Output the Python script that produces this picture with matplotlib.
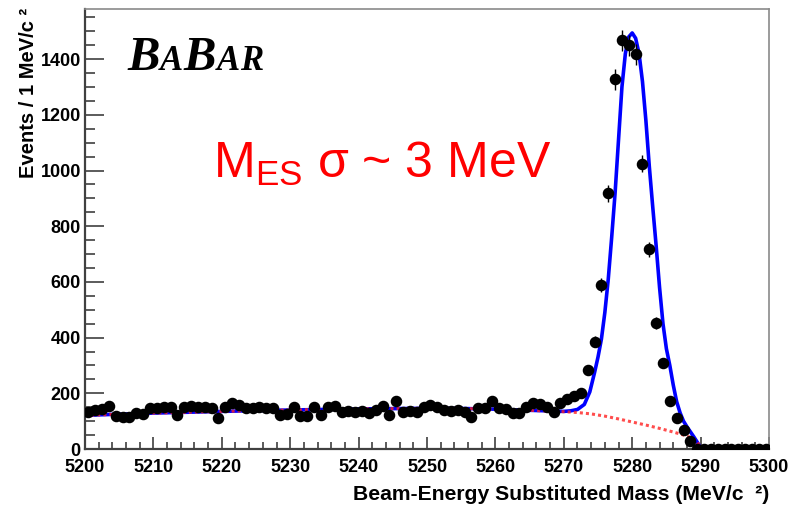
import numpy as np
import matplotlib
matplotlib.use("Agg")
import matplotlib.pyplot as plt
from matplotlib.ticker import MultipleLocator

plt.rcParams.update({
    "font.family": "Liberation Sans", "font.size": 12,
    "figure.facecolor": "white", "axes.facecolor": "white",
})

BLUE = "#0000ff"; RED = "#ff2020"; AXIS = "#404040"

# binned data: 1 MeV bins, 5200-5300
bin_centers = np.arange(5200.5, 5300.5, 1.0)
counts = [134, 140, 142, 154, 118, 116, 115, 128, 124, 146,
          148, 150, 152, 122, 150, 154, 152, 150, 148, 110,
          150, 164, 158, 146, 148, 150, 148, 146, 122, 124,
          150, 120, 118, 152, 122, 150, 155, 134, 138, 132,
          136, 130, 140, 155, 122, 174, 134, 136, 132, 150,
          157, 150, 140, 136, 140, 134, 116, 146, 146, 174,
          146, 144, 128, 130, 152, 165, 160, 150, 132, 165,
          180, 190, 200, 284, 385, 589, 918, 1327, 1468, 1450,
          1417, 1025, 718, 453, 308, 173, 110, 68, 30, 0,
          0, 0, 0, 0, 0, 0, 0, 0, 0, 0]

# background (ARGUS) component
bkg_x = [5200, 5205, 5210, 5215, 5220, 5225, 5230, 5235, 5240, 5245, 5250,
         5255, 5260, 5265, 5270, 5272, 5274, 5276, 5278, 5280, 5282, 5284,
         5286, 5287, 5288, 5288.5, 5289, 5289.5, 5289.8, 5290, 5300]
bkg_y = [121, 125, 129, 132, 135, 138, 140, 142, 144, 145, 146,
         145.5, 143, 139, 134, 131, 126, 118, 108, 97, 86, 74,
         61, 54, 46, 41, 34, 24, 14, 0, 0]

# total fit (blue)
fit_x = [5200, 5205, 5210, 5215, 5220, 5225, 5230, 5235, 5240, 5245, 5250,
         5255, 5260, 5265, 5270, 5271, 5272, 5273, 5273.8, 5274.5, 5275,
         5275.5, 5276, 5276.5, 5277, 5277.5, 5278, 5278.5, 5279, 5279.5,
         5280, 5280.5, 5281, 5281.5, 5282, 5282.5, 5283, 5283.5, 5284,
         5284.5, 5285, 5285.5, 5286, 5286.5, 5287, 5287.5, 5288, 5288.5,
         5289, 5289.5, 5290, 5290.2, 5300]
fit_y = [121, 125, 129, 132, 135, 138, 140, 142, 144, 145, 146,
         145.5, 143, 139, 135, 137, 142, 160, 205, 275, 330,
         395, 490, 610, 760, 920, 1110, 1300, 1420, 1480,
         1494, 1475, 1420, 1320, 1180, 1015, 870, 730, 580,
         450, 360, 300, 230, 170, 130, 100, 80, 62,
         44, 25, 5, 0, 0]

fig = plt.figure(figsize=(7.98, 5.07), dpi=100)
ax = fig.add_axes([85/798, 1 - 449/507, 684/798, 440/507])

ax.plot(fit_x, fit_y, color=BLUE, lw=2.6, zorder=3)
ax.plot(bkg_x, bkg_y, color=RED, lw=2.2, ls=(0, (1, 1)), alpha=0.8, zorder=4)
ax.errorbar(bin_centers, counts, yerr=np.sqrt(counts), fmt="o", color="black",
            ms=7.3, elinewidth=1, capsize=0, zorder=5)

ax.set_xlim(5200, 5300)
ax.set_ylim(0, 1580)
ax.xaxis.set_major_locator(MultipleLocator(10))
ax.xaxis.set_minor_locator(MultipleLocator(2))
ax.yaxis.set_major_locator(MultipleLocator(200))
ax.yaxis.set_minor_locator(MultipleLocator(50))
ax.tick_params(axis="y", which="major", direction="in", length=14, width=1.2, color=AXIS, pad=3)
ax.tick_params(axis="y", which="minor", direction="in", length=7, width=1.2, color=AXIS)
ax.tick_params(axis="x", which="major", direction="in", length=9, width=1.2, color=AXIS, pad=7)
ax.tick_params(axis="x", which="minor", direction="in", length=5, width=1.2, color=AXIS)
for lab in ax.get_xticklabels() + ax.get_yticklabels():
    lab.set_fontweight("bold"); lab.set_fontsize(13)
for s in ["left", "bottom"]:
    ax.spines[s].set_color(AXIS); ax.spines[s].set_linewidth(1.6)
for s in ["top", "right"]:
    ax.spines[s].set_color("#8a8a8a"); ax.spines[s].set_linewidth(1.2)

fig.text(769/798, 1 - 495/507, "Beam-Energy Substituted Mass (MeV/c  \u00b2)",
         ha="right", va="center", fontsize=15.2, fontweight="bold")
fig.text(29/798, 1 - 8/507, "Events / 1 MeV/c \u00b2", rotation=90,
         ha="center", va="top", fontsize=14.5, fontweight="bold")

# BaBar logo: letters laid out one after another so they just touch
renderer = fig.canvas.get_renderer()
xp = 127
for ch, size in [("B", 35), ("A", 25), ("B", 35), ("A", 25), ("R", 25)]:
    t = fig.text(xp/798, 1 - 70/507, ch, family="Liberation Serif", style="italic",
                 fontweight="bold", fontsize=size, va="baseline", ha="left")
    xp = t.get_window_extent(renderer).x1 + 0.5

fig.text(213/798, 1 - 178/507, r"M$_{\mathregular{ES}}$ σ ~ 3 MeV", color="#ff0000",
         fontsize=36, va="baseline", ha="left")

plt.savefig("out.png", dpi=100)
